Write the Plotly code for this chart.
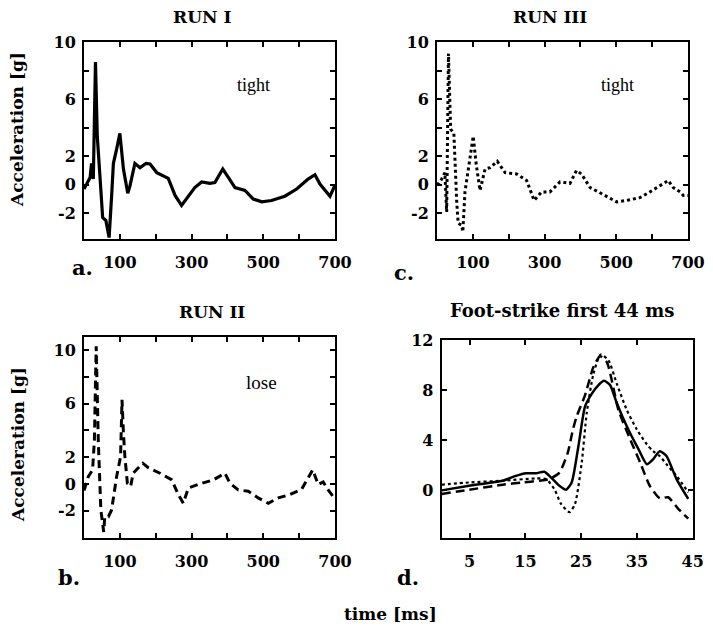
import plotly.graph_objects as go

# page body has an 8px margin, so the figure is drawn 8px in from the window edge
OFF = 8
W, H = 713 - OFF, 627 - OFF

# ---------------- data ----------------
run1_t = [0, 17, 21, 26, 32, 37, 45, 52, 61, 70, 77, 82, 91, 100, 110, 122, 128, 142, 156, 173, 184, 203,
          235, 254, 272, 286, 309, 328, 351, 365, 387, 403, 421, 449, 472, 496, 523, 560, 593, 625, 644,
          658, 672, 686, 695, 700]
run1_a = [-0.3, 0.5, 1.5, 0.4, 8.6, 3.4, 0.4, -2.3, -2.5, -3.7, -0.8, 1.5, 2.5, 3.6, 1.1, -0.6, -0.1, 1.5,
          1.2, 1.5, 1.45, 0.85, 0.45, -0.75, -1.45, -1.0, -0.2, 0.2, 0.1, 0.15, 1.1, 0.5, -0.2, -0.4, -1.0,
          -1.2, -1.1, -0.8, -0.3, 0.4, 0.7, 0.05, -0.4, -0.8, -0.3, 0.0]

run3_t = [0, 4, 13, 22, 27, 32, 38, 47, 55, 59, 69, 72, 78, 87, 101, 109, 120, 134, 148, 168, 190, 222,
          250, 271, 292, 315, 343, 371, 389, 403, 427, 450, 478, 501, 529, 566, 594, 622, 645, 659, 678,
          687, 700]
run3_a = [0.1, 0.05, 0.4, 0.85, -1.9, 9.2, 3.9, 3.6, -1.2, -2.7, -2.85, -3.3, -0.5, 1.1, 3.4, 1.5, -0.4,
          1.1, 1.2, 1.65, 0.85, 0.75, 0.3, -1.1, -0.5, -0.5, 0.2, 0.1, 1.0, 0.75, -0.2, -0.5, -0.9, -1.2,
          -1.1, -0.9, -0.5, -0.05, 0.3, -0.2, -0.5, -0.75, -0.75]

run2_t = [0, 12, 24, 29, 34, 37, 40, 47, 55, 58, 68, 77, 91, 102, 106, 110, 114, 121, 130, 137, 164, 180,
          212, 245, 263, 277, 291, 323, 361, 393, 407, 430, 458, 486, 514, 542, 574, 607, 621, 638, 653,
          667, 681, 695, 700]
run2_a = [-0.5, 0.55, 1.05, 3.3, 10.3, 5.3, 3.1, -1.95, -3.6, -2.45, -2.45, -1.95, 0.55, 2.05, 6.3, 3.8,
          2.05, 0.05, -0.2, 0.8, 1.55, 1.2, 0.8, 0.3, -0.8, -1.45, -0.3, 0.0, 0.3, 0.8, 0.05, -0.45, -0.55,
          -1.05, -1.45, -1.05, -0.8, -0.4, 0.3, 1.05, -0.05, 0.15, -0.45, -0.95, -1.0]

fs_solid_t = [0, 4.9, 10.9, 13.3, 15.1, 16.9, 18.4, 19.6, 21.1, 22.3, 23.3, 24.5, 25.7, 26.9, 28.1, 29.1,
              30.2, 31.4, 33.2, 35.3, 36.8, 37.9, 39.1, 40.3, 42.1, 44.2]
fs_solid_a = [0.0, 0.37, 0.77, 1.16, 1.37, 1.37, 1.48, 1.03, 0.37, 0.05, 0.63, 3.5, 6.7, 7.7, 8.4, 8.74,
              8.4, 6.95, 5.1, 3.27, 2.08, 2.48, 3.13, 2.74, 0.9, -0.68]

fs_dash_t = [0, 4.9, 10.9, 14.5, 17.5, 19.3, 21.1, 22.6, 23.5, 24.2, 25.7, 27.2, 28.4, 29.6, 31.7, 33.8,
             35.6, 37.3, 39.1, 40.6, 42.4, 44.2]
fs_dash_a = [-0.28, 0.05, 0.45, 0.63, 0.77, 0.9, 1.42, 3.0, 4.8, 5.9, 7.6, 9.84, 10.7, 10.24, 6.4, 4.06,
             2.2, 0.37, -0.63, -0.55, -1.47, -2.26]

fs_dot_t = [0, 4.9, 10.9, 16.9, 18.7, 20.2, 21.4, 22.9, 23.9, 25.1, 26.0, 27.2, 28.5, 29.9, 31.4, 33.2,
            35.0, 36.8, 37.9, 39.1, 40.3, 42.1, 44.2]
fs_dot_a = [0.45, 0.63, 0.77, 0.95, 0.9, 0.1, -1.08, -1.74, -1.08, 2.2, 6.16, 9.3, 10.84, 10.37, 8.5, 6.4,
            4.85, 3.66, 3.13, 2.74, 2.08, 1.16, -0.16]

run_x_ticks = [0, 100, 200, 300, 400, 500, 600, 700]
run_x_text = ["", "100", "", "300", "", "500", "", "700"]
run_y_ticks = [-4, -2, 0, 2, 4, 6, 8, 10]
run_y_text = ["", "-2", "0", "2", "", "6", "", "10"]
fs_x_ticks = [5, 15, 25, 35, 45]
fs_y_ticks = [0, 4, 8, 12]

# ---------------- figure ----------------
def px_x(p):
    return (p - OFF) / W

def px_y(p):
    return 1 - (p - OFF) / H

fig = go.Figure()

fig.add_trace(go.Scatter(x=run1_t, y=run1_a, mode="lines", line=dict(color="black", width=3.2),
                         xaxis="x", yaxis="y", showlegend=False))
fig.add_trace(go.Scatter(x=run3_t, y=run3_a, mode="lines", line=dict(color="black", width=3, dash="dot"),
                         xaxis="x2", yaxis="y2", showlegend=False))
fig.add_trace(go.Scatter(x=run2_t, y=run2_a, mode="lines",
                         line=dict(color="black", width=3, dash="8px,5px"),
                         xaxis="x3", yaxis="y3", showlegend=False))
fig.add_trace(go.Scatter(x=fs_solid_t, y=fs_solid_a, mode="lines",
                         line=dict(color="black", width=2.5, shape="spline", smoothing=0.6),
                         xaxis="x4", yaxis="y4", showlegend=False))
fig.add_trace(go.Scatter(x=fs_dash_t, y=fs_dash_a, mode="lines",
                         line=dict(color="black", width=2.5, dash="9px,5px", shape="spline", smoothing=0.6),
                         xaxis="x4", yaxis="y4", showlegend=False))
fig.add_trace(go.Scatter(x=fs_dot_t, y=fs_dot_a, mode="lines",
                         line=dict(color="black", width=2.2, dash="dot", shape="spline", smoothing=0.6),
                         xaxis="x4", yaxis="y4", showlegend=False))

tickfont = dict(family="DejaVu Serif", size=16, color="black", weight="bold")
common = dict(showline=True, linecolor="black", linewidth=2, mirror="ticks", ticks="inside",
              ticklen=5, tickwidth=1.5, tickcolor="black", showgrid=False, zeroline=False,
              tickfont=tickfont, fixedrange=True, automargin=False)

xa = dict(common, ticklabelstandoff=8)
ya = dict(common, ticklabelstandoff=3)

dom_a_x = [px_x(84), px_x(335)]
dom_c_x = [px_x(437), px_x(688)]
dom_d_x = [px_x(441.7), px_x(692.7)]
dom_top_y = [px_y(239), px_y(42)]
dom_b_y = [px_y(538), px_y(337)]
dom_d_y = [px_y(538), px_y(340)]

fig.update_layout(
    width=W, height=H, margin=dict(l=0, r=0, t=0, b=0, pad=0, autoexpand=False),
    paper_bgcolor="white", plot_bgcolor="white", showlegend=False,
    xaxis=dict(xa, domain=dom_a_x, range=[0, 700], tickvals=run_x_ticks, ticktext=run_x_text, anchor="y"),
    yaxis=dict(ya, domain=dom_top_y, range=[-3.8, 10], tickvals=run_y_ticks, ticktext=run_y_text, anchor="x"),
    xaxis2=dict(xa, domain=dom_c_x, range=[0, 700], tickvals=run_x_ticks, ticktext=run_x_text, anchor="y2"),
    yaxis2=dict(ya, domain=dom_top_y, range=[-3.8, 10], tickvals=run_y_ticks, ticktext=run_y_text, anchor="x2"),
    xaxis3=dict(xa, domain=dom_a_x, range=[0, 700], tickvals=run_x_ticks, ticktext=run_x_text, anchor="y3"),
    yaxis3=dict(ya, domain=dom_b_y, range=[-4.05, 11], tickvals=run_y_ticks, ticktext=run_y_text, anchor="x3"),
    xaxis4=dict(xa, domain=dom_d_x, range=[0, 45], tickvals=fs_x_ticks, anchor="y4"),
    yaxis4=dict(ya, domain=dom_d_y, range=[-3.8, 12], tickvals=fs_y_ticks, anchor="x4"),
)

def ann(text, x, y, size, bold=True, family="DejaVu Serif", angle=0):
    fig.add_annotation(text=text, x=px_x(x), y=px_y(y), xref="paper", yref="paper",
                       showarrow=False, textangle=angle, xanchor="center", yanchor="middle",
                       font=dict(family=family, size=size, color="black",
                                 weight="bold" if bold else "normal"))

# titles
ann("RUN I", 202, 17, 17)
ann("RUN III", 550, 17, 17)
ann("RUN II", 212, 312, 17)
ann("Foot-strike first 44 ms", 562, 310, 18)
# in-panel labels
ann("tight", 253, 85, 18, bold=False, family="Liberation Serif")
ann("tight", 617, 85, 18, bold=False, family="Liberation Serif")
ann("lose", 261, 382, 19, bold=False, family="Liberation Serif")
# panel letters
ann("a.", 82, 268, 21)
ann("c.", 404, 272, 21)
ann("b.", 69, 577, 21)
ann("d.", 408, 577, 21)
# axis titles
ann("Acceleration [g]", 17, 130, 17, angle=-90)
ann("Acceleration [g]", 18, 445, 17, angle=-90)
ann("time [ms]", 390, 614, 17)

fig.write_html("out.html")
